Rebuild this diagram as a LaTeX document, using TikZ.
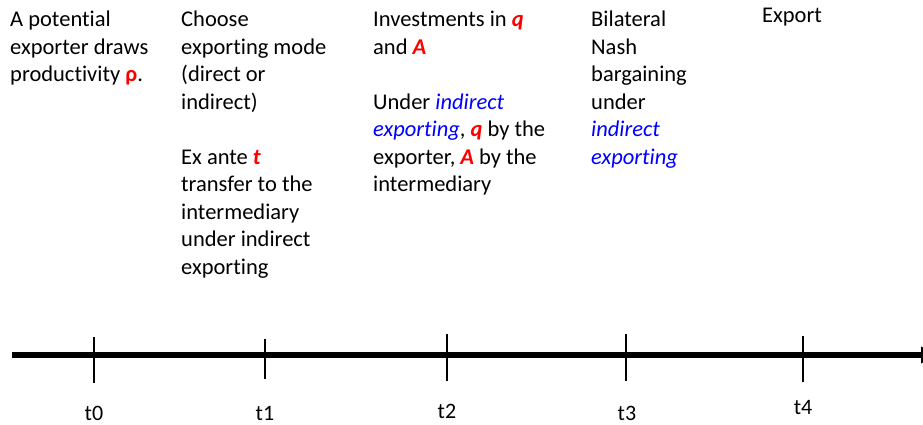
\documentclass[tikz,border=0pt]{standalone}
\usepackage{fontspec}
\setmainfont{Carlito}[Ligatures=NoCommon]
\usepackage{tikz}
\usetikzlibrary{arrows.meta,positioning}
\definecolor{varred}{HTML}{FF0000}
\definecolor{modeblue}{HTML}{0000FF}
\newcommand{\redvar}[1]{\textcolor{varred}{\textbf{\textit{#1}}}}
\newcommand{\modetxt}[1]{\textcolor{modeblue}{\textit{#1}}}
\tikzset{
  ev_text/.style={anchor=north west,inner sep=0pt,align=left,
    font=\fontsize{22.5}{27.5}\selectfont},
  t_lbl/.style={inner sep=0pt,font=\fontsize{22}{26}\selectfont},
  axis_arr/.style={-{Triangle[length=15pt,width=16pt]},line width=6pt},
  tick_ln/.style={line width=1.5pt},
}
\begin{document}
\begin{tikzpicture}[x=1pt,y=-1pt]
  \useasboundingbox (0,0) rectangle (923,425);

  % events above the time line
  \node[ev_text] (ev0) at (10,11) {A potential\\exporter draws\\productivity \textcolor{varred}{\textbf{ρ}}.};
  \node[ev_text] (ev1) at (181,11) {Choose\\exporting mode\\(direct or\\indirect)\\[27.5pt]Ex ante \redvar{t}\\transfer to the\\intermediary\\under indirect\\exporting};
  \node[ev_text] (ev2) at (373,11) {Investments in \redvar{q}\\and \redvar{A}\\[27.5pt]Under \modetxt{indirect}\\\modetxt{exporting}, \redvar{q} by the\\exporter, \redvar{A} by the\\intermediary};
  \node[ev_text] (ev3) at (591,11) {Bilateral\\Nash\\bargaining\\under\\\modetxt{indirect}\\\modetxt{exporting}};
  \node[ev_text] (ev4) at (762,8) {Export};

  % time line
  \coordinate (ax_start) at (12,355);
  \coordinate (ax_end) at (936,355);
  \draw[axis_arr] (ax_start) -- (ax_end);

  \coordinate (k0) at (94,355);
  \coordinate (k1) at (265,355);
  \coordinate (k2) at (447,355);
  \coordinate (k3) at (626,355);
  \coordinate (k4) at (803,355);
  \draw[tick_ln] ([yshift=18pt]k0) -- ([yshift=-28pt]k0);
  \draw[tick_ln] ([yshift=16pt]k1) -- ([yshift=-24pt]k1);
  \draw[tick_ln] ([yshift=21pt]k2) -- ([yshift=-26pt]k2);
  \draw[tick_ln] ([yshift=21pt]k3) -- ([yshift=-26pt]k3);
  \draw[tick_ln] ([yshift=19pt]k4) -- ([yshift=-27pt]k4);

  \node[t_lbl] (t0) at (94,413) {t0};
  \node[t_lbl] (t1) at (265,413) {t1};
  \node[t_lbl] (t2) at (447,411) {t2};
  \node[t_lbl] (t3) at (627,413) {t3};
  \node[t_lbl] (t4) at (803,408) {t4};
\end{tikzpicture}
\end{document}
